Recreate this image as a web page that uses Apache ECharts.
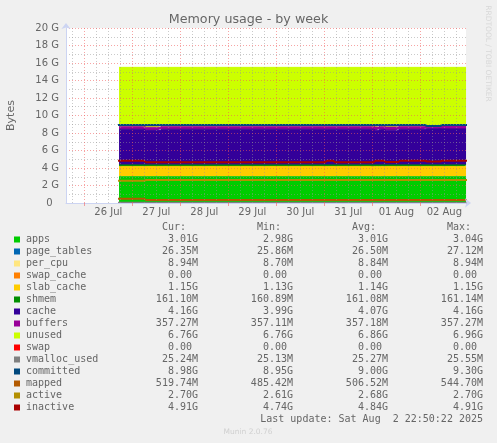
<!DOCTYPE html>
<html>
	<head>
		<meta charset="UTF-8">
		<title>Memory usage - by week</title>
		<style type="text/css">
			html,body{margin:0;padding:0;background:#f0f0f0;}
			#main{width:497px;height:443px;}
		</style>
	</head>
	<body>
		<div id="main"></div>
		<script src="https://cdn.jsdelivr.net/npm/echarts@6/dist/echarts.min.js" type="text/javascript"></script>
		<script type="text/javascript">
			// hours counted from 26 Jul 00:00
			var hours = [17.35, 29.85, 37.85, 57.85, 120.35, 124.35, 144.6, 147.0, 149.85, 156.85, 170.35, 177.85, 190.85];
			var dayTicks = [0, 24, 48, 72, 96, 120, 144, 168];
			var dayLabelHours = [12, 36, 60, 84, 108, 132, 156, 180];
			var dayLabels = ['26 Jul', '27 Jul', '28 Jul', '29 Jul', '30 Jul', '31 Jul', '01 Aug', '02 Aug'];
			var sixHourTicks = [-6, 6, 12, 18, 30, 36, 42, 54, 60, 66, 78, 84, 90, 102, 108, 114, 126, 132, 138, 150, 156, 162, 174, 180, 186];

			// stacked areas, in G
			var apps = [3.00, 3.00, 3.00, 3.00, 3.00, 3.00, 3.00, 3.00, 3.00, 3.00, 3.00, 3.00, 3.00];
			var pageTables = [0.026, 0.026, 0.026, 0.026, 0.026, 0.026, 0.026, 0.026, 0.026, 0.026, 0.026, 0.026, 0.026];
			var perCpu = [0.009, 0.009, 0.009, 0.009, 0.009, 0.009, 0.009, 0.009, 0.009, 0.009, 0.009, 0.009, 0.009];
			var swapCache = [0, 0, 0, 0, 0, 0, 0, 0, 0, 0, 0, 0, 0];
			var slabCache = [1.15, 1.15, 1.15, 1.15, 1.15, 1.15, 1.15, 1.15, 1.15, 1.15, 1.15, 1.15, 1.15];
			var shmem = [0.161, 0.161, 0.161, 0.161, 0.161, 0.161, 0.161, 0.161, 0.161, 0.161, 0.161, 0.161, 0.161];
			var cache = [4.08, 3.96, 4.08, 4.08, 4.08, 4.08, 3.98, 4.08, 3.98, 4.08, 4.14, 4.12, 4.12];
			var buffers = [0.357, 0.357, 0.357, 0.357, 0.357, 0.357, 0.357, 0.357, 0.357, 0.357, 0.357, 0.357, 0.357];
			var unused = [6.72, 6.84, 6.72, 6.72, 6.72, 6.72, 6.82, 6.72, 6.82, 6.72, 6.66, 6.68, 6.68];
			var swap = [0, 0, 0, 0, 0, 0, 0, 0, 0, 0, 0, 0, 0];

			// lines drawn on top, in G
			var vmallocUsed = [0.025, 0.025, 0.025, 0.025, 0.025, 0.025, 0.025, 0.025, 0.025, 0.025, 0.025, 0.025, 0.025];
			var committed = [8.91, 8.91, 8.91, 8.91, 8.91, 8.91, 8.91, 8.91, 8.91, 8.91, 8.80, 8.91, 8.91];
			var mapped = [0.49, 0.34, 0.34, 0.34, 0.34, 0.34, 0.34, 0.34, 0.34, 0.34, 0.34, 0.34, 0.34];
			var active = [2.55, 2.63, 2.63, 2.63, 2.63, 2.63, 2.63, 2.63, 2.63, 2.63, 2.63, 2.63, 2.63];
			var inactive = [4.83, 4.66, 4.66, 4.66, 4.83, 4.66, 4.83, 4.83, 4.68, 4.83, 4.74, 4.83, 4.83];

			// legend table
			var legendNames = ['apps', 'page_tables', 'per_cpu', 'swap_cache', 'slab_cache', 'shmem', 'cache', 'buffers', 'unused', 'swap', 'vmalloc_used', 'committed', 'mapped', 'active', 'inactive'];
			var legendCur = ['3.01G', '26.35M', '8.94M', '0.00 ', '1.15G', '161.10M', '4.16G', '357.27M', '6.76G', '0.00 ', '25.24M', '8.98G', '519.74M', '2.70G', '4.91G'];
			var legendMin = ['2.98G', '25.86M', '8.70M', '0.00 ', '1.13G', '160.89M', '3.99G', '357.11M', '6.76G', '0.00 ', '25.13M', '8.95G', '485.42M', '2.61G', '4.74G'];
			var legendAvg = ['3.01G', '26.50M', '8.84M', '0.00 ', '1.14G', '161.08M', '4.07G', '357.18M', '6.86G', '0.00 ', '25.27M', '9.00G', '506.52M', '2.68G', '4.84G'];
			var legendMax = ['3.04G', '27.12M', '8.94M', '0.00 ', '1.15G', '161.14M', '4.16G', '357.27M', '6.96G', '0.00 ', '25.55M', '9.30G', '544.70M', '2.70G', '4.91G'];

			var colors = {
				apps:'#00CC00', page_tables:'#0066B3', per_cpu:'#FFE680', swap_cache:'#FF8000', slab_cache:'#FFCC00',
				shmem:'#008F00', cache:'#330099', buffers:'#990099', unused:'#CCFF00', swap:'#FF0000',
				vmalloc_used:'#808080', committed:'#00487D', mapped:'#B35A00', active:'#B38F00', inactive:'#AA0000'
			};

			var textColor = '#666666';
			var redGrid = 'rgba(240,90,90,0.55)';
			var greyGrid = 'rgba(150,150,150,0.5)';
			var axisBlue = '#ccd4f2';

			// value comes first in each row: echarts stacks on the first numeric dimension.
			// each value is also held just before and after its step, because polylines
			// drop segments under 2px and would otherwise turn small steps into long slopes
			var hold = 1.05;
			function rows(values){
				var out = [];
				hours.forEach(function(h, i){
					if(i > 0) out.push([values[i - 1], h - hold]);
					out.push([values[i], h]);
					if(i < hours.length - 1) out.push([values[i], h + hold]);
				});
				return out;
			}
			// edgeWidth paints over the white seam between neighbouring areas
			function areaSeries(name, values, edgeWidth){
				return {
					name:name, type:'line', stack:'mem', step:'end', symbol:'none', data:rows(values), encode:{x:1, y:0},
					lineStyle:{width:edgeWidth, color:colors[name]}, itemStyle:{color:colors[name]},
					areaStyle:{color:colors[name], opacity:1}, animation:false, silent:true
				};
			}
			function lineSeries(name, values){
				return {
					name:name, type:'line', step:'end', symbol:'none', data:rows(values), encode:{x:1, y:0},
					lineStyle:{width:2, color:colors[name], cap:'square'}, itemStyle:{color:colors[name]},
					animation:false, silent:true
				};
			}

			// text and swatches below the plot
			var graphics = [
				{type:'text', x:248.5, y:19.5, silent:true, style:{text:'Memory usage - by week', fill:textColor, font:'12.7px "DejaVu Sans"', textAlign:'center', textVerticalAlign:'middle'}},
				{type:'text', x:487.5, y:53.5, rotation:-Math.PI / 2, silent:true, style:{text:'RRDTOOL / TOBI OETIKER', fill:'#d8d8d8', font:'7.5px "DejaVu Sans"', textAlign:'center', textVerticalAlign:'middle'}},
				{type:'text', x:248, y:432.5, silent:true, style:{text:'Munin 2.0.76', fill:'#d0d0d0', font:'7.5px "DejaVu Sans"', textAlign:'center', textVerticalAlign:'middle'}},
				{type:'text', x:483, y:419, silent:true, style:{text:'Last update: Sat Aug  2 22:50:22 2025', fill:textColor, font:'10px "DejaVu Sans Mono"', textAlign:'right', textVerticalAlign:'middle'}}
			];
			var columnHeads = ['Cur:', 'Min:', 'Avg:', 'Max:'];
			var columnRight = [186, 281, 376, 471];
			var columnValueRight = [198, 293, 388, 483];
			var columns = [legendCur, legendMin, legendAvg, legendMax];
			columnHeads.forEach(function(head, c){
				graphics.push({type:'text', x:columnRight[c], y:227.5, silent:true, style:{text:head, fill:textColor, font:'10px "DejaVu Sans Mono"', textAlign:'right', textVerticalAlign:'middle'}});
			});
			legendNames.forEach(function(name, r){
				var rowY = 239.5 + r * 12;
				graphics.push({type:'rect', silent:true, shape:{x:14, y:rowY - 3, width:6, height:6}, style:{fill:colors[name]}});
				graphics.push({type:'text', x:26, y:rowY, silent:true, style:{text:name, fill:textColor, font:'10px "DejaVu Sans Mono"', textAlign:'left', textVerticalAlign:'middle'}});
				columns.forEach(function(col, c){
					graphics.push({type:'text', x:columnValueRight[c], y:rowY, silent:true, style:{text:col[r], fill:textColor, font:'10px "DejaVu Sans Mono"', textAlign:'right', textVerticalAlign:'middle'}});
				});
			});

			var myChart = echarts.init(document.getElementById("main"), null, {renderer:'canvas'});
			var option = {
				backgroundColor:'#f0f0f0',
				animation:false,
				grid:{left:66, top:28, width:400, height:175, show:true, backgroundColor:'#ffffff', borderWidth:0, outerBoundsMode:'none'},
				xAxis:[{
					type:'value', min:-9.17, max:190.83, z:10,
					axisLine:{show:true, onZero:false, lineStyle:{color:axisBlue, width:1}, symbol:['none', 'arrow'], symbolSize:[7, 6], symbolOffset:[0, 5]},
					axisTick:{show:true, length:3, customValues:dayTicks, lineStyle:{color:redGrid}},
					splitLine:{show:true, lineStyle:{color:redGrid, type:[1, 2], width:1}},
					axisLabel:{
						show:true, customValues:dayLabelHours, color:textColor, fontFamily:'DejaVu Sans', fontSize:10, margin:4,
						formatter:function(v){ return dayLabels[dayLabelHours.indexOf(v)]; }
					}
				},{
					type:'value', min:-9.17, max:190.83, position:'top', z:9,
					axisLine:{show:false}, axisLabel:{show:false},
					axisTick:{show:false, customValues:sixHourTicks},
					splitLine:{show:true, lineStyle:{color:greyGrid, type:[1, 2], width:1}}
				}],
				yAxis:{
					type:'value', min:0, max:20, interval:2, z:10,
					name:'Bytes', nameLocation:'middle', nameGap:49,
					nameTextStyle:{color:textColor, fontFamily:'DejaVu Sans', fontSize:11},
					axisLine:{show:true, onZero:false, lineStyle:{color:axisBlue, width:1}, symbol:['none', 'arrow'], symbolSize:[7, 6], symbolOffset:[0, 5]},
					axisTick:{show:false},
					minorTick:{show:false, splitNumber:2},
					splitLine:{show:true, lineStyle:{color:redGrid, type:[1, 2], width:1}},
					minorSplitLine:{show:true, lineStyle:{color:greyGrid, type:[1, 2], width:1}},
					axisLabel:{
						color:textColor, fontFamily:'DejaVu Sans', fontSize:10, margin:7,
						formatter:function(v){ return v === 0 ? '0  ' : v + ' G'; }
					}
				},
				series:[
					areaSeries('apps', apps, 1),
					areaSeries('page_tables', pageTables, 0),
					areaSeries('per_cpu', perCpu, 0),
					areaSeries('swap_cache', swapCache, 0),
					areaSeries('slab_cache', slabCache, 1),
					areaSeries('shmem', shmem, 1),
					areaSeries('cache', cache, 1),
					areaSeries('buffers', buffers, 1),
					areaSeries('unused', unused, 1),
					areaSeries('swap', swap, 0),
					lineSeries('vmalloc_used', vmallocUsed),
					lineSeries('committed', committed),
					lineSeries('mapped', mapped),
					lineSeries('active', active),
					lineSeries('inactive', inactive)
				],
				graphic:graphics
			};
			myChart.setOption(option);
		</script>
	</body>
</html>
